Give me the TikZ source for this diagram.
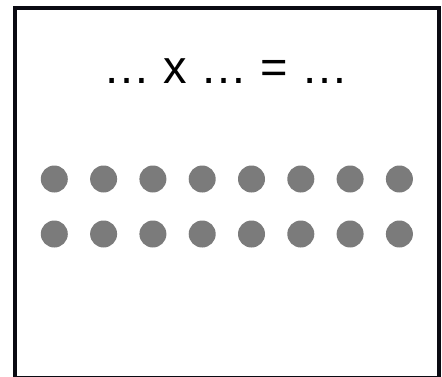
\documentclass[tikz,border=0pt]{standalone}
\usepackage{fontspec}
\setmainfont{Liberation Sans}
\definecolor{dotgray}{RGB}{123,123,123}
\definecolor{frame}{RGB}{10,10,18}
\tikzset{
  dotnode/.style={circle, fill=dotgray, draw=none, minimum size=27pt, inner sep=0pt},
  frameline/.style={draw=frame, line width=4pt},
  eqtext/.style={font=\fontsize{47}{50}\selectfont, inner sep=0pt, anchor=base}
}
\begin{document}
\begin{tikzpicture}[x=1pt,y=-1pt]
\useasboundingbox (0,0) rectangle (442,376);
\fill[white] (0,0) rectangle (442,376);
\draw[frameline] (14.7,7.5) rectangle (439,377.5);
\node[eqtext] (eq) at (226,83) {… x … = …};
\foreach \r/\y in {1/179,2/234}{
  \foreach \i in {1,...,8}{
    \node[dotnode] (d\r-\i) at ({54.3+(\i-1)*49.3},\y) {};
  }
}
\end{tikzpicture}
\end{document}
